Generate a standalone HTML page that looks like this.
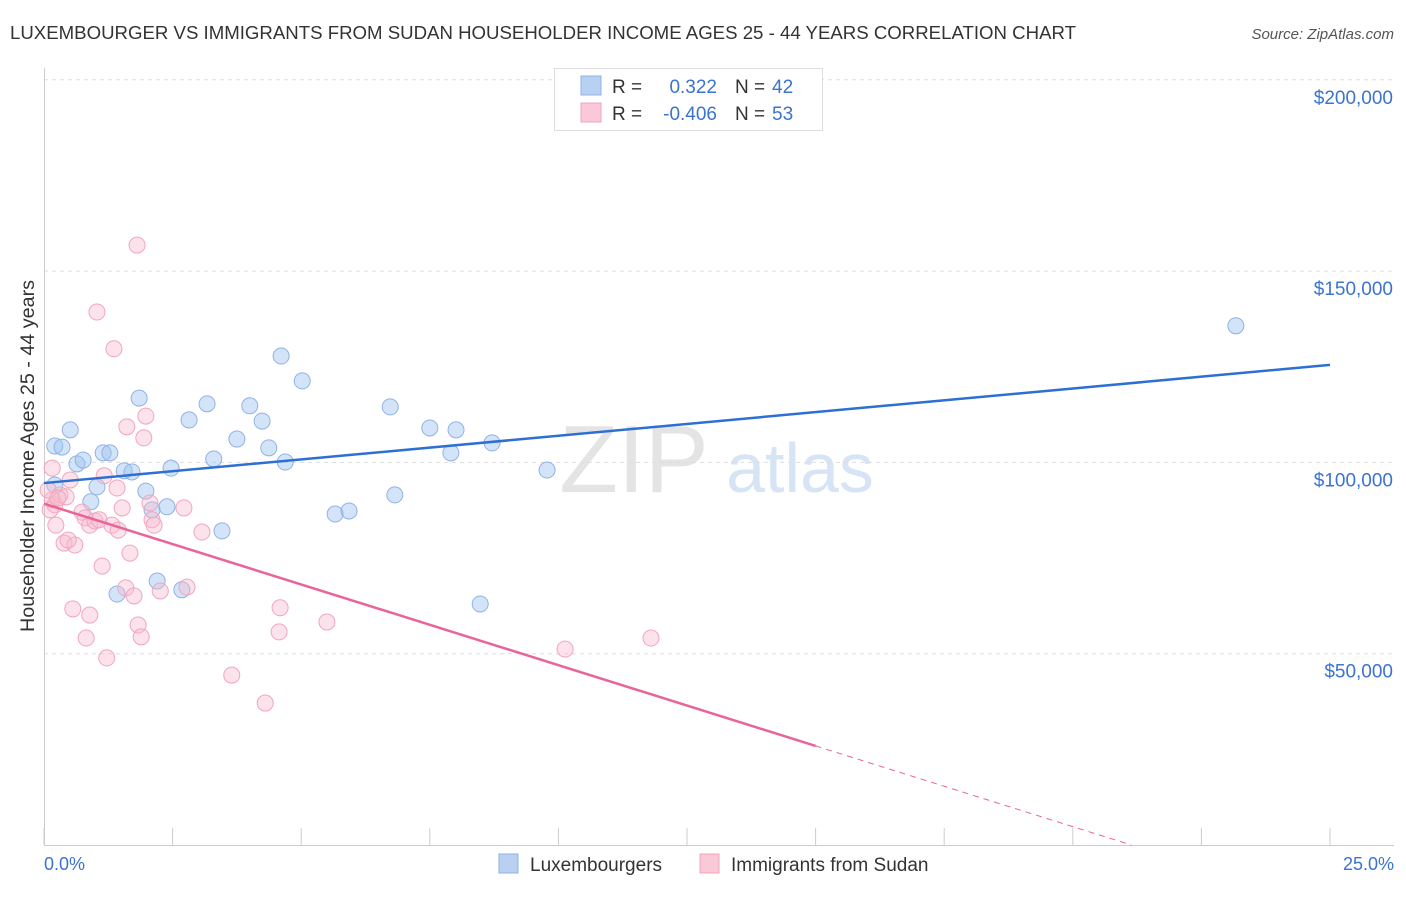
<!DOCTYPE html>
<html><head><meta charset="utf-8"><style>
body{margin:0;background:#fff;font-family:"Liberation Sans",sans-serif;}
svg text{font-family:"Liberation Sans",sans-serif;}
</style></head><body>
<svg id="chart" width="1406" height="892" xmlns="http://www.w3.org/2000/svg">
<text x="10" y="39" font-size="18.5" fill="#333" textLength="1066" lengthAdjust="spacingAndGlyphs">LUXEMBOURGER VS IMMIGRANTS FROM SUDAN HOUSEHOLDER INCOME AGES 25 - 44 YEARS CORRELATION CHART</text>
<text x="1394" y="39" font-size="15" fill="#555" font-style="italic" text-anchor="end">Source: ZipAtlas.com</text>
<text x="634" y="492" font-size="96" fill="#e4e4e4" text-anchor="middle" font-family="Liberation Serif">ZIP</text>
<text x="800" y="492" font-size="70" fill="#d6e4f5" text-anchor="middle">atlas</text>
<g id="grid"></g>
<g id="axes"></g>
<g id="marks"></g>
<text transform="translate(34,456) rotate(-90)" font-size="19" fill="#333" text-anchor="middle" textLength="352" lengthAdjust="spacingAndGlyphs">Householder Income Ages 25 - 44 years</text>
<text x="44" y="870" font-size="18" fill="#3a73d0">0.0%</text>
<text x="1394" y="870" font-size="18" fill="#3a73d0" text-anchor="end">25.0%</text>
<g>
<rect x="554.5" y="68.5" width="268" height="62" fill="#fff" stroke="#ddd"/>
<rect x="581" y="76" width="20" height="19" fill="#b8d0f2" stroke="#8fb2e6"/>
<rect x="581" y="103" width="20" height="19" fill="#fbc8d7" stroke="#f2a5bd"/>
<text x="612" y="93" font-size="19" fill="#333">R =</text>
<text x="717" y="93" font-size="19" fill="#3a73d0" text-anchor="end">0.322</text>
<text x="735" y="93" font-size="19" fill="#333">N =</text>
<text x="772" y="93" font-size="19" fill="#3a73d0">42</text>
<text x="612" y="120" font-size="19" fill="#333">R =</text>
<text x="717" y="120" font-size="19" fill="#3a73d0" text-anchor="end">-0.406</text>
<text x="735" y="120" font-size="19" fill="#333">N =</text>
<text x="772" y="120" font-size="19" fill="#3a73d0">53</text>
</g>
<g>
<rect x="499" y="854" width="19" height="19" fill="#b8d0f2" stroke="#8fb2e6"/>
<text x="530" y="871" font-size="19" fill="#333">Luxembourgers</text>
<rect x="700" y="854" width="19" height="19" fill="#fbc8d7" stroke="#f2a5bd"/>
<text x="731" y="871" font-size="19" fill="#333">Immigrants from Sudan</text>
</g>
</svg>
<script>
const yTicks=[50000,100000,150000,200000];
const yTickLabels=["$50,000","$100,000","$150,000","$200,000"];
const xTicks=[0,2.5,5,7.5,10,12.5,15,17.5,20,22.5,25];
const blueX=[0.21,0.35,0.51,0.64,0.76,1.03,0.91,1.15,1.28,1.56,1.71,1.85,1.98,2.10,2.39,2.47,2.20,2.68,2.82,3.17,3.30,3.46,3.75,4.00,4.24,4.37,4.69,4.61,5.02,5.66,5.93,6.73,6.82,7.50,7.91,8.01,8.48,8.71,9.78,23.17,1.42,0.21];
const blueY=[104300,104000,108500,99600,100600,93600,89700,102500,102500,97800,97500,116800,92500,87600,88400,98500,69000,66700,111100,115300,100900,82100,106100,114800,110800,103800,100100,127800,121300,86500,87300,114500,91500,109000,102500,108500,63000,105100,98000,135700,65600,94100];
const pinkX=[1.81,1.03,1.36,1.98,1.94,1.61,0.16,0.16,0.21,0.31,0.43,0.51,0.12,0.23,0.39,0.60,0.47,0.74,0.80,0.89,0.99,1.07,1.17,1.32,1.44,1.52,1.42,1.67,1.13,0.56,0.89,0.82,1.22,1.83,1.89,2.06,2.10,2.14,1.59,1.75,2.26,2.72,2.78,3.07,3.65,4.30,4.59,4.57,5.50,10.13,11.80,0.08,0.27];
const pinkY=[156800,139300,129700,112100,106400,109300,98500,90200,88900,91500,91000,95400,87600,83600,78900,78400,79700,87000,85500,83600,84700,85000,96500,83600,82300,88100,93300,76300,72900,61700,60100,54100,48900,57500,54400,89400,85000,83600,67200,65100,66400,88100,67400,81800,44400,37100,62000,55700,58300,51200,54100,92800,90700];
const blueTrend=[94600,125500];
const pinkTrend=[89200,-4220];
const NS="http://www.w3.org/2000/svg";
const X=v=>44+v/25*1286;
const Y=v=>845-v/50000*191.3;
function mk(tag,attrs,parent){const e=document.createElementNS(NS,tag);for(const k in attrs)e.setAttribute(k,attrs[k]);parent.appendChild(e);return e;}
const grid=document.getElementById('grid'),axes=document.getElementById('axes'),marks=document.getElementById('marks');
yTicks.forEach((t,i)=>{
 const l=mk('line',{x1:44,x2:1394,y1:Y(t),y2:Y(t),stroke:'#ddd','stroke-dasharray':'4,4'},grid);
 
 
 const tx=mk('text',{x:1393,y:Y(t)+24,'font-size':19,fill:'#3a73d0','text-anchor':'end'},grid);
 tx.textContent=yTickLabels[i];
 
 
});
const ax=mk('line',{x1:44,x2:1394,y1:845.5,y2:845.5,stroke:'#ccc'},axes);


const ay=mk('line',{x1:44.5,x2:44.5,y1:68,y2:845,stroke:'#ccc'},axes);


xTicks.forEach(t=>{
 const l=mk('line',{x1:X(t),x2:X(t),y1:828,y2:845,stroke:'#ccc'},axes);
 
 
});
blueX.forEach((x,i)=>{
 const c=mk('circle',{cx:X(x),cy:Y(blueY[i]),r:8,fill:'rgba(160,195,240,0.45)',stroke:'#8fb2e6','stroke-width':1},marks);
 
 
});
pinkX.forEach((x,i)=>{
 const c=mk('circle',{cx:X(x),cy:Y(pinkY[i]),r:8,fill:'rgba(248,185,205,0.4)',stroke:'#f2a5bd','stroke-width':1},marks);
 
 
});
const bl=mk('line',{x1:X(0),y1:Y(blueTrend[0]),x2:X(25),y2:Y(blueTrend[1]),stroke:'#2d6fd2','stroke-width':2.5},marks);


const pEnd=15, pZero=-pinkTrend[0]/pinkTrend[1];
const pl=mk('line',{x1:X(0),y1:Y(pinkTrend[0]),x2:X(pEnd),y2:Y(pinkTrend[0]+pinkTrend[1]*pEnd),stroke:'#e8649a','stroke-width':2.5},marks);


const pd=mk('line',{x1:X(pEnd),y1:Y(pinkTrend[0]+pinkTrend[1]*pEnd),x2:X(pZero),y2:Y(0),stroke:'#e8649a','stroke-width':1,'stroke-dasharray':'6,5'},marks);


</script>
</body></html>
